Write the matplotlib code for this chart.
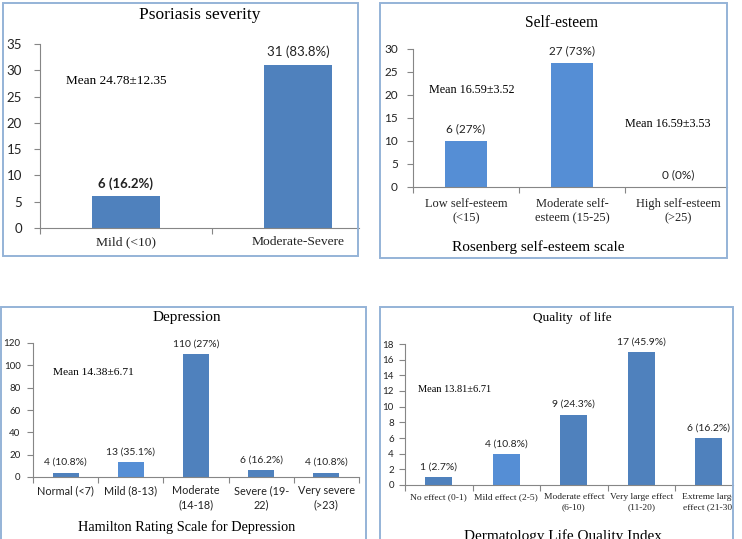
import matplotlib
matplotlib.use('Agg')
import matplotlib.pyplot as plt
from matplotlib.patches import Rectangle

W, H = 742, 539

# Psoriasis severity
sev_cats = ['Mild (<10)', 'Moderate-Severe']
sev_vals = [6, 31]
sev_labels = ['6 (16.2%)', '31 (83.8%)']

# Self-esteem
se_cats = ['Low self-esteem\n(<15)', 'Moderate self-\nesteem (15-25)', 'High self-esteem\n(>25)']
se_vals = [10, 27, 0]
se_labels = ['6 (27%)', '27 (73%)', '0 (0%)']

# Depression
dep_cats = ['Normal (<7)', 'Mild (8-13)', 'Moderate\n(14-18)', 'Severe (19-\n22)', 'Very severe\n(>23)']
dep_vals = [4, 13, 110, 6, 4]
dep_labels = ['4 (10.8%)', '13 (35.1%)', '110 (27%)', '6 (16.2%)', '4 (10.8%)']

# Quality of life
qol_cats = ['No effect (0-1)', 'Mild effect (2-5)', 'Moderate effect\n(6-10)',
            'Very large effect\n(11-20)', 'Extreme large\neffect (21-30)']
qol_vals = [1, 4, 9, 17, 6]
qol_labels = ['1 (2.7%)', '4 (10.8%)', '9 (24.3%)', '17 (45.9%)', '6 (16.2%)']

SERIF = 'Liberation Serif'
SANS = 'Lato'
BLUE = '#4F81BD'
LIGHT = '#558ED5'
AXC = '#868686'
BORDER = '#95B3D7'

fig = plt.figure(figsize=(W / 100, H / 100), dpi=100)
fig.patch.set_facecolor('white')


def px_rect(x0, x1, ytop, ybot):
    return [x0 / W, 1 - ybot / H, (x1 - x0) / W, (ybot - ytop) / H]


def box(x0, x1, ytop, ybot):
    r = Rectangle((x0 / W, 1 - ybot / H), (x1 - x0) / W, (ybot - ytop) / H,
                  transform=fig.transFigure, fill=False,
                  edgecolor=BORDER, linewidth=1.4)
    fig.patches.append(r)
    return r


def ftext(x, y, s, **kw):
    fig.text(x / W, 1 - y / H, s, ha='center', va='center', **kw)


def panel(rect, cats, vals, labels, colors, ylim, yticks, xmax, ytick_fs, ypad,
          xtick_fs, xtick_font, xpad, lsp, lab_fs, lab_off, lab_weights=None):
    ax = fig.add_axes(rect)
    x = list(range(len(cats)))
    ax.bar(x, vals, width=0.4, color=colors)
    ax.set_yticks(yticks)
    ax.set_xticks(x)
    ax.set_xticks([i - 0.5 for i in range(len(cats) + 1)], minor=True)
    # limits after ticks, otherwise set_xticks widens the view
    ax.set_xlim(-0.5, xmax)
    ax.set_ylim(*ylim)
    ax.set_xticklabels(cats, fontsize=xtick_fs, family=xtick_font, color='#222222',
                       linespacing=lsp)
    for t in ax.get_yticklabels():
        t.set_fontsize(ytick_fs)
        t.set_family(SANS)
        t.set_color('#222222')
    ax.tick_params(axis='x', which='major', length=0, pad=xpad)
    ax.tick_params(axis='x', which='minor', length=4, color=AXC, width=0.8)
    ax.tick_params(axis='y', length=4, color=AXC, width=0.8, pad=ypad)
    for s in ['top', 'right']:
        ax.spines[s].set_visible(False)
    for s in ['left', 'bottom']:
        ax.spines[s].set_color(AXC)
        ax.spines[s].set_linewidth(0.8)
    if lab_weights is None:
        lab_weights = ['normal'] * len(vals)
    for i, (v, l) in enumerate(zip(vals, labels)):
        ax.annotate(l, (i, v), xytext=(0, lab_off), textcoords='offset points',
                    ha='center', va='bottom', fontsize=lab_fs, family=SANS,
                    color='#222222', fontweight=lab_weights[i])
    return ax


# Panel 1: Psoriasis severity
box(3, 358, 3, 256)
ax1 = panel(px_rect(40, 359, 44, 228), sev_cats, sev_vals, sev_labels, [BLUE, BLUE],
            (0, 35), range(0, 36, 5), -0.5 + 319 / 172, 9.5, 9,
            9.7, SERIF, 6, 1.1, 9.5, 5, lab_weights=['bold', 'normal'])
ax1.text(0.08, 0.80, 'Mean 24.78±12.35', transform=ax1.transAxes, fontsize=9.5,
         family=SERIF, ha='left', va='center')
ftext(200, 15, 'Psoriasis severity', fontsize=12.5, family=SERIF)

# Panel 2: Self-esteem
box(380, 727, 3, 258)
ax2 = panel(px_rect(413, 727, 49, 187), se_cats, se_vals, se_labels, [LIGHT, LIGHT, LIGHT],
            (0, 30), range(0, 31, 5), -0.5 + 314 / 106, 8.5, 7,
            8.9, SERIF, 8, 1.2, 8.5, 5)
ax2.text(0.05, 0.70, 'Mean 16.59±3.52', transform=ax2.transAxes, fontsize=8.7,
         family=SERIF, ha='left', va='center')
ax2.text(0.675, 0.46, 'Mean 16.59±3.53', transform=ax2.transAxes, fontsize=8.7,
         family=SERIF, ha='left', va='center')
ftext(562, 23, 'Self-esteem', fontsize=11.2, family=SERIF)
ftext(538, 247, 'Rosenberg self-esteem scale', fontsize=11, family=SERIF)

# Panel 3: Depression
box(1, 366, 307, 545)
ax3 = panel(px_rect(33, 359, 343, 477), dep_cats, dep_vals, dep_labels,
            [BLUE, LIGHT, BLUE, BLUE, BLUE],
            (0, 120), range(0, 121, 20), 4.5, 7, 5,
            7.8, SANS, 6, 1.35, 7.5, 4)
ax3.text(0.06, 0.78, 'Mean 14.38±6.71', transform=ax3.transAxes, fontsize=8.2,
         family=SERIF, ha='left', va='center')
ftext(187, 318, 'Depression', fontsize=11, family=SERIF)
ftext(187, 527, 'Hamilton Rating Scale for Depression', fontsize=10.3, family=SERIF)

# Panel 4: Quality of life
box4 = box(380, 733, 307, 545)
ax4 = panel(px_rect(405, 733, 344, 485), qol_cats, qol_vals, qol_labels,
            [BLUE, LIGHT, BLUE, BLUE, BLUE],
            (0, 18), range(0, 19, 2), -0.5 + 328 / 67.5, 7, 4,
            6.8, SERIF, 6, 1.35, 7.5, 4)
# the last category label runs into the frame in the original
for t in ax4.get_xticklabels():
    t.set_clip_path(box4)
ax4.text(0.04, 0.68, 'Mean 13.81±6.71', transform=ax4.transAxes, fontsize=7.5,
         family=SERIF, ha='left', va='center')
ftext(572, 318, 'Quality  of life', fontsize=9.5, family=SERIF)
ftext(563, 536, 'Dermatology Life Quality Index', fontsize=11, family=SERIF)

fig.savefig('out.png', dpi=100)
